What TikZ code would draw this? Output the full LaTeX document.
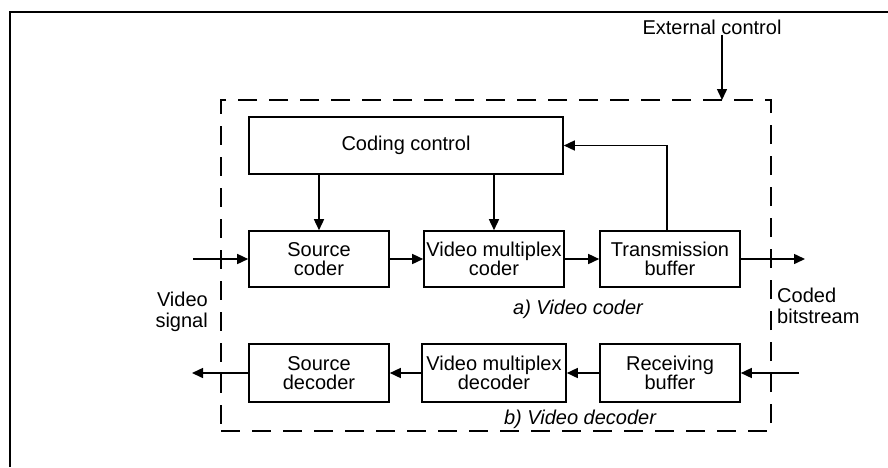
\documentclass[tikz,border=0pt]{standalone}
\usepackage{fontspec}
\setmainfont{Liberation Sans}
\usetikzlibrary{arrows.meta}
\begin{document}
\begin{tikzpicture}[x=1pt,y=-1pt,
  blk/.style={draw, line width=1.6pt, minimum width=140pt, minimum height=56pt, align=center, inner sep=0pt, font=\fontsize{20}{18.5}\selectfont},
  con/.style={line width=1.5pt, -{Triangle[length=11pt,width=10pt]}},
  lbl/.style={font=\fontsize{20}{21}\selectfont, inner sep=0pt},
  framebox/.style={draw, line width=1.5pt, dash pattern=on 19pt off 12pt, inner sep=0pt},
]
\useasboundingbox (0,0) rectangle (888,467);
\draw[line width=2.4pt] (10,467) -- (10,12) -- (888,12);

\node[framebox, minimum width=550pt, minimum height=331pt] (frame) at (496,265.5) {};

\node[lbl] (ext) at (712,27) {External control};
\coordinate (ecin) at (722,100);
\draw[con] (ext.south -| ecin) -- (ecin);

\node[blk, minimum width=314pt, minimum height=57pt] (cc) at (406,145.5) {Coding control};
\node[blk] (sc) at (319,259) {Source\\coder};
\node[blk] (vmc) at (494,259) {Video multiplex\\coder};
\node[blk] (tb) at (670,259) {Transmission\\buffer};
\node[blk, minimum height=58pt] (sd) at (319,373) {Source\\decoder};
\node[blk, minimum width=144pt, minimum height=58pt] (vmd) at (494,373) {Video multiplex\\decoder};
\node[blk, minimum height=58pt] (rb) at (670,373) {Receiving\\buffer};

\coordinate (vin) at (193,259);
\coordinate (bout) at (805,259);
\coordinate (din) at (799,373);
\coordinate (vout) at (192,373);

\draw[con] (cc.south -| sc) -- (sc.north);
\draw[con] (cc.south -| vmc) -- (vmc.north);
\draw[con] ([xshift=-3pt]tb.north) |- (cc.east);
\draw[con] (vin) -- (sc.west);
\draw[con] (sc) -- (vmc);
\draw[con] (vmc) -- (tb);
\draw[con] (tb.east) -- (bout);
\draw[con] (din) -- (rb.east);
\draw[con] (rb) -- (vmd);
\draw[con] (vmd) -- (sd);
\draw[con] (sd.west) -- (vout);

\node[lbl, align=right, anchor=east] (vs) at (208,312) {Video\\signal};
\node[lbl, align=left, anchor=west] (cb) at (777,306) {Coded\\bitstream};
\node[lbl, font=\fontsize{20}{21}\selectfont\itshape] (ca) at (578,309) {a) Video coder};
\node[lbl, font=\fontsize{20}{21}\selectfont\itshape] (da) at (580,419) {b) Video decoder};
\end{tikzpicture}
\end{document}
